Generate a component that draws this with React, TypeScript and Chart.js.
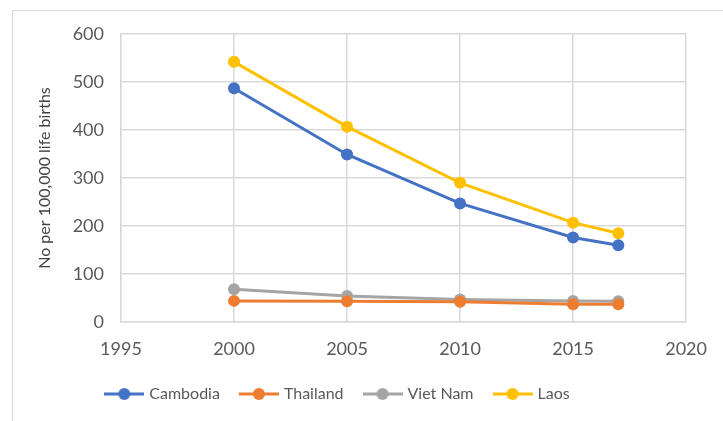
import React, { useEffect, useRef } from "react";
import { Chart, registerables } from "chart.js";

Chart.register(...registerables);

const years = [2000, 2005, 2010, 2015, 2017];
const cambodia = [487, 349, 247, 176, 160];
const thailand = [44, 43, 42, 37, 37];
const vietNam = [68, 54, 47, 44, 43];
const laos = [542, 407, 290, 207, 185];
const seriesNames = ["Cambodia", "Thailand", "Viet Nam", "Laos"];
const seriesColors = ["#4472C4", "#ED7D31", "#A5A5A5", "#FFC000"];
const yTitle = "No per 100,000 life births";

const FONT = "Lato, 'Open Sans', sans-serif";

function legendIcon(color: string) {
  const c = document.createElement("canvas");
  c.width = 40;
  c.height = 14;
  const ctx = c.getContext("2d")!;
  ctx.strokeStyle = color;
  ctx.lineWidth = 3;
  ctx.beginPath();
  ctx.moveTo(0, 7);
  ctx.lineTo(40, 7);
  ctx.stroke();
  ctx.fillStyle = color;
  ctx.beginPath();
  ctx.arc(20, 7, 6, 0, Math.PI * 2);
  ctx.fill();
  return c;
}

const legendShift = {
  id: "legendShift",
  afterLayout(chart: any) {
    const l = chart.legend;
    if (l) {
      l.left -= 21;
      l.right -= 21;
    }
  },
};

export default function App() {
  const ref = useRef<HTMLCanvasElement | null>(null);
  useEffect(() => {
    document.body.style.margin = "0";
    const all = [cambodia, thailand, vietNam, laos];
    const icons = seriesColors.map(legendIcon);
    const chart = new Chart(ref.current!, {
      type: "line",
      data: {
        datasets: all.map((vals, i) => ({
          label: seriesNames[i],
          data: years.map((y, j) => ({ x: y, y: vals[j] })),
          borderColor: seriesColors[i],
          backgroundColor: seriesColors[i],
          borderWidth: 3,
          pointRadius: 6,
          pointHoverRadius: 6,
          pointBorderWidth: 0,
          tension: 0,
        })),
      },
      plugins: [legendShift],
      options: {
        animation: false,
        responsive: false,
        maintainAspectRatio: false,
        layout: { padding: { left: 30, right: 34, top: 34, bottom: 9 } },
        scales: {
          x: {
            type: "linear",
            min: 1995,
            max: 2020,
            ticks: {
              stepSize: 5,
              color: "#595959",
              font: { family: FONT, size: 18 },
              padding: 16,
              callback: (v: any) => String(v),
            },
            grid: { color: "#D9D9D9", lineWidth: 1.5, drawTicks: false },
            border: { color: "#D9D9D9", width: 1.5 },
            afterFit: (s: any) => {
              s.height = 42;
            },
          },
          y: {
            min: 0,
            max: 600,
            ticks: {
              stepSize: 100,
              color: "#595959",
              font: { family: FONT, size: 18 },
              padding: 17,
            },
            grid: { color: "#D9D9D9", lineWidth: 1.5, drawTicks: false },
            border: { color: "#D9D9D9", width: 1.5 },
            title: {
              display: true,
              text: yTitle,
              color: "#404040",
              font: { family: FONT, size: 16 },
              padding: { top: 5, bottom: 0 },
            },
            afterFit: (s: any) => {
              s.width = 91;
            },
          },
        },
        plugins: {
          legend: {
            position: "bottom",
            labels: {
              usePointStyle: true,
              pointStyleWidth: 34,
              color: "#595959",
              font: { family: FONT, size: 16 },
              padding: 22,
              generateLabels: (ch: any) =>
                ch.data.datasets.map((d: any, i: number) => ({
                  text: d.label,
                  pointStyle: icons[i],
                  fillStyle: seriesColors[i],
                  strokeStyle: seriesColors[i],
                  lineWidth: 0,
                  datasetIndex: i,
                  hidden: false,
                  fontColor: "#595959",
                })),
            },
          },
          tooltip: { enabled: false },
        },
      },
    });
    return () => chart.destroy();
  }, []);
  return (
    <div style={{ position: "relative", width: 723, height: 421, background: "#fff", overflow: "hidden" }}>
      <div
        style={{
          position: "absolute",
          left: 12,
          top: 10,
          width: 760,
          height: 460,
          border: "1.5px solid #D9D9D9",
          boxSizing: "border-box",
        }}
      />
      <canvas ref={ref} width={723} height={421} style={{ position: "absolute", left: 0, top: 0 }} />
    </div>
  );
}
